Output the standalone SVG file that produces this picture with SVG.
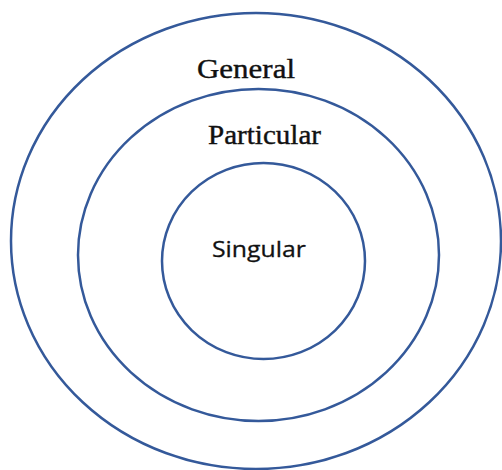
<svg xmlns="http://www.w3.org/2000/svg" width="502" height="470" viewBox="0 0 502 470">
<style>
.ring{fill:none;stroke:#34599a;stroke-width:2.5}
.serif{font-family:"Liberation Serif","Times New Roman",serif;fill:#111;stroke:#111;stroke-width:0.4}
.sans{font-family:"Open Sans","Noto Sans","Liberation Sans",sans-serif;fill:#111;stroke:#111;stroke-width:0.3}
</style>
<rect width="502" height="470" fill="#fff"/>
<g id="general">
<ellipse class="ring" cx="256" cy="241" rx="245" ry="228"/>
<text class="serif" x="197" y="78" font-size="28" textLength="98" lengthAdjust="spacingAndGlyphs">General</text>
</g>
<g id="particular">
<ellipse class="ring" cx="258.5" cy="255" rx="180.5" ry="166"/>
<text class="serif" x="208" y="144" font-size="27" textLength="113" lengthAdjust="spacingAndGlyphs">Particular</text>
</g>
<g id="singular">
<ellipse class="ring" cx="263.5" cy="261" rx="101.5" ry="98"/>
<text class="sans" x="212" y="257" font-size="22" textLength="94" lengthAdjust="spacingAndGlyphs">Singular</text>
</g>
<g id="connectors"/>
</svg>
